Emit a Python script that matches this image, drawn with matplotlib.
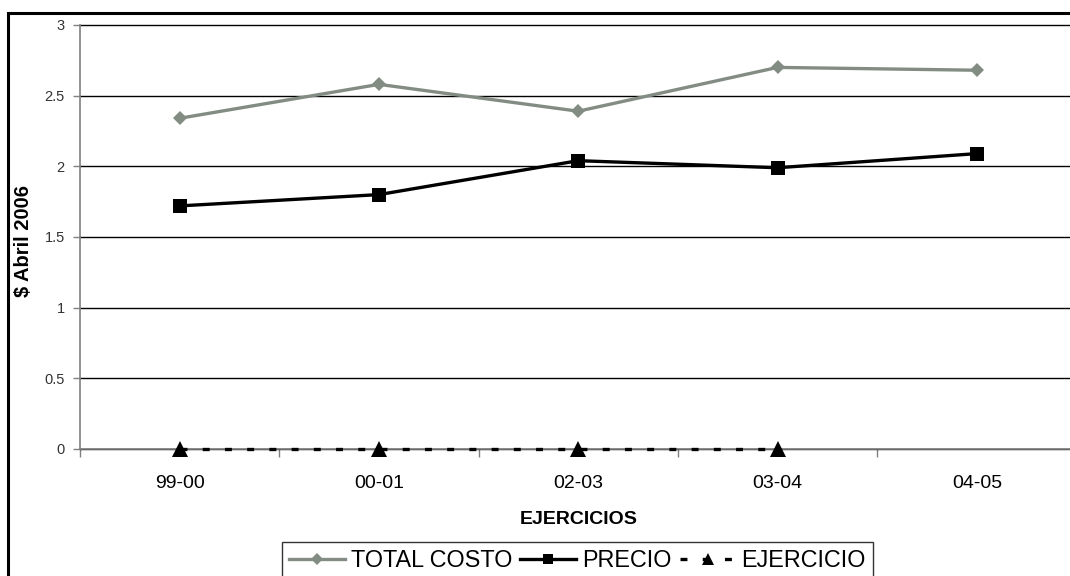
import matplotlib
matplotlib.use("Agg")
import matplotlib.pyplot as plt
import numpy as np
from matplotlib.patches import Rectangle
from matplotlib.ticker import FixedLocator, NullFormatter, FixedFormatter

plt.rcParams['font.family'] = ['Liberation Sans', 'DejaVu Sans']
plt.rcParams['lines.scale_dashes'] = False

categories = ["99-00", "00-01", "02-03", "03-04", "04-05"]
total_costo = [2.34, 2.58, 2.39, 2.70, 2.68]
precio = [1.72, 1.80, 2.04, 1.99, 2.09]
ejercicio = [0, 0, 0, 0, np.nan]
y_ticks = [0, 0.5, 1, 1.5, 2, 2.5, 3]
y_ticklabels = ["0", "0.5", "1", "1.5", "2", "2.5", "3"]

W, H = 1070, 576
fig = plt.figure(figsize=(W / 100, H / 100), dpi=100)
left_px, right_px, top_px, bot_px = 80, 1076.5, 25, 449
ax = fig.add_axes([left_px / W, 1 - bot_px / H, (right_px - left_px) / W, (bot_px - top_px) / H])

x = np.arange(len(categories))
grey = '#838c83'
ax.plot(x, total_costo, color=grey, lw=2.4, marker='D', markersize=7.6,
        markeredgewidth=0, label='TOTAL COSTO', zorder=4)
ax.plot(x, precio, color='black', lw=2.4, marker='s', markersize=9.5,
        markeredgewidth=0, label='PRECIO', zorder=4)
ax.plot(x, ejercicio, color='black', lw=2.4, marker='^', markersize=11,
        markeredgewidth=0, dashes=(5, 11), label='EJERCICIO', zorder=5,
        clip_on=False)

ax.set_xlim(-0.5, len(categories) - 0.5)
ax.set_ylim(0, 3)

ax.yaxis.set_major_locator(FixedLocator(y_ticks))
ax.yaxis.set_major_formatter(FixedFormatter(y_ticklabels))
ax.xaxis.set_major_locator(FixedLocator(np.arange(-0.5, len(categories), 1.0)))
ax.xaxis.set_major_formatter(NullFormatter())
ax.xaxis.set_minor_locator(FixedLocator(x))
ax.xaxis.set_minor_formatter(FixedFormatter(categories))

ax.tick_params(axis='y', which='major', direction='out', length=5, width=1,
               color='#808080', labelsize=10.5, labelcolor='#333333', pad=6)
ax.tick_params(axis='x', which='major', direction='out', length=6, width=1,
               color='#808080')
ax.tick_params(axis='x', which='minor', length=0, labelsize=14, pad=19,
               labelcolor='black')

ax.grid(axis='y', color='black', lw=1)
ax.set_axisbelow(True)
for gl in ax.get_ygridlines():
    gl.set_clip_on(False)

for s in ['top', 'right']:
    ax.spines[s].set_visible(False)
for s in ['left', 'bottom']:
    ax.spines[s].set_color('#808080')
    ax.spines[s].set_linewidth(1.2)

ax.set_ylabel('$ Abril 2006', fontsize=14.5, fontweight='bold')
ax.yaxis.set_label_coords((24 - left_px) / (right_px - left_px), 0.49)
ax.yaxis.label.set_va('center')
ax.set_xlabel('EJERCICIOS', fontsize=14, fontweight='bold')
ax.xaxis.set_label_coords(0.5, -(520 - bot_px) / (bot_px - top_px))
ax.xaxis.label.set_va('center')

leg = ax.legend(loc='upper left', bbox_to_anchor=(282 / W, 1 - 542 / H),
                bbox_transform=fig.transFigure, ncol=3, fontsize=16.8,
                frameon=True, fancybox=False, edgecolor='black',
                borderaxespad=0, borderpad=0.3, handlelength=2.4,
                handletextpad=0.25, columnspacing=0.35, markerscale=0.8)
leg.get_frame().set_linewidth(1.0)

border = Rectangle((8 / W, -0.2), 2.0, 1 - 13 / H + 0.2, transform=fig.transFigure,
                   fill=False, edgecolor='black', lw=2.2, clip_on=False)
fig.patches.append(border)

fig.savefig('out.png', dpi=100)
